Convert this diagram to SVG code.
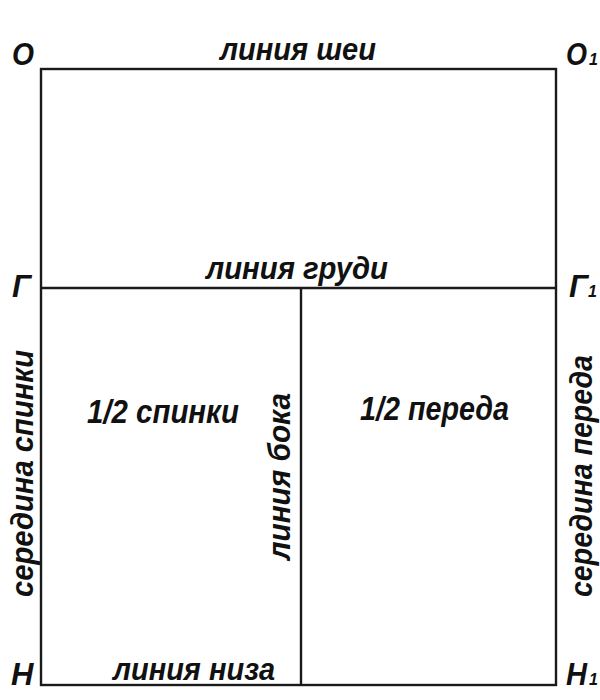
<svg xmlns="http://www.w3.org/2000/svg" width="600" height="700" viewBox="0 0 600 700">
<style>
.t{font-family:"Liberation Sans","Arial",sans-serif;font-weight:bold;font-style:italic;font-size:31px;fill:#111}
.b{font-size:34px}
.s{font-size:16px}
.ln{stroke:#1a1a1a;stroke-width:2.4;fill:none}
</style>
<rect width="600" height="700" fill="#fff"/>
<g id="connectors">
<rect class="ln" x="41" y="69" width="515" height="616"/>
<line class="ln" x1="41" y1="288" x2="556" y2="288"/>
<line class="ln" x1="301" y1="288" x2="301" y2="685"/>
</g>
<g id="labels-top">
<text class="t" x="12" y="65" textLength="22" lengthAdjust="spacingAndGlyphs">О</text>
<text class="t" x="566" y="65" textLength="21" lengthAdjust="spacingAndGlyphs">О</text>
<text class="t s" x="589" y="65">1</text>
<text class="t" x="220" y="60" textLength="156" lengthAdjust="spacingAndGlyphs">линия шеи</text>
</g>
<g id="labels-breast">
<text class="t" x="12" y="297">Г</text>
<text class="t" x="569" y="297">Г</text>
<text class="t s" x="588" y="297">1</text>
<text class="t" x="206" y="279" textLength="182" lengthAdjust="spacingAndGlyphs">линия груди</text>
</g>
<g id="labels-bottom">
<text class="t" x="11" y="685">Н</text>
<text class="t" x="566" y="685" textLength="21" lengthAdjust="spacingAndGlyphs">Н</text>
<text class="t s" x="589" y="685">1</text>
<text class="t" x="113" y="680" textLength="162" lengthAdjust="spacingAndGlyphs">линия низа</text>
</g>
<g id="back">
<text class="t b" x="87" y="423" textLength="152" lengthAdjust="spacingAndGlyphs">1/2 спинки</text>
<text class="t" transform="translate(33,597) rotate(-90)" textLength="247" lengthAdjust="spacingAndGlyphs">середина спинки</text>
</g>
<g id="side">
<text class="t" transform="translate(290,560) rotate(-90)" textLength="167" lengthAdjust="spacingAndGlyphs">линия бока</text>
</g>
<g id="front">
<text class="t b" x="360" y="420" textLength="149" lengthAdjust="spacingAndGlyphs">1/2 переда</text>
<text class="t" transform="translate(592,597) rotate(-90)" textLength="242" lengthAdjust="spacingAndGlyphs">середина переда</text>
</g>
</svg>
